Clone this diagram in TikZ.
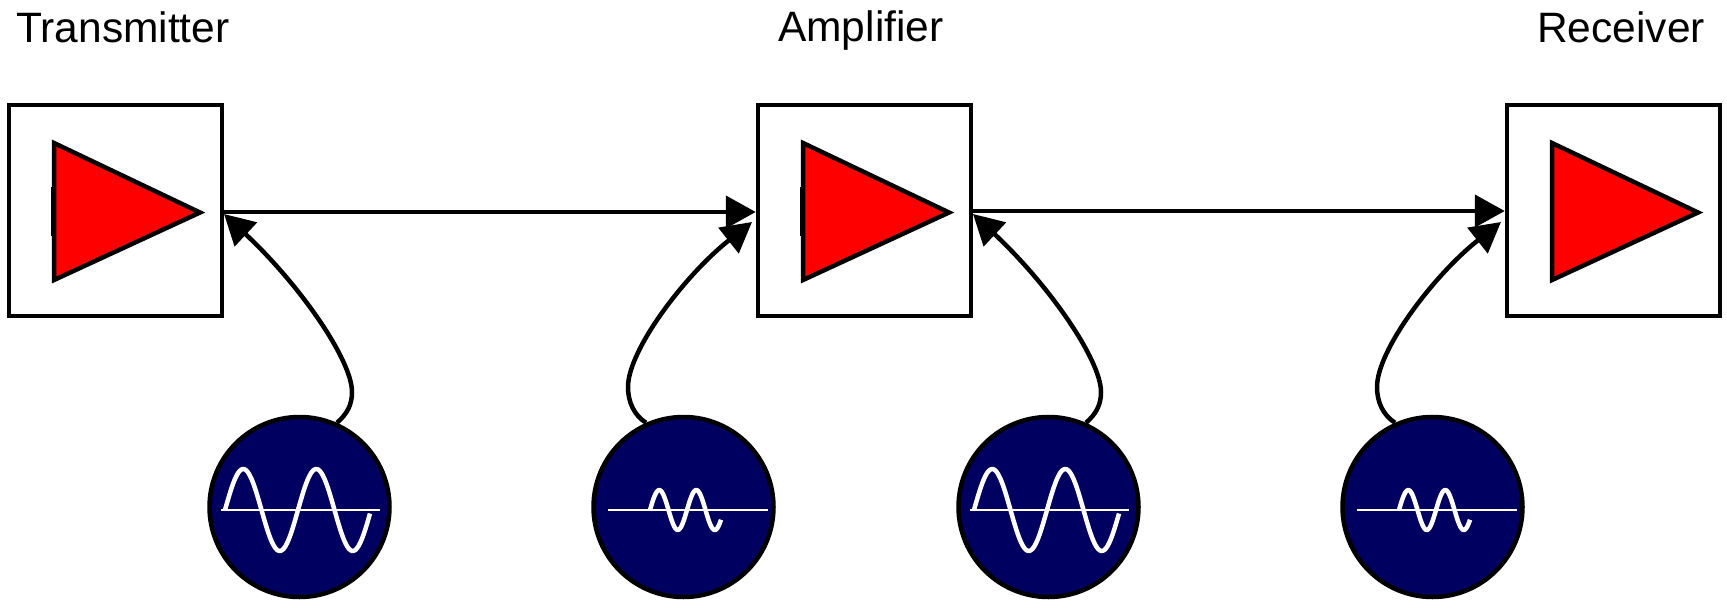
\documentclass[tikz,border=0pt]{standalone}
\usepackage{fontspec}
\setmainfont{Liberation Sans}
\usetikzlibrary{arrows.meta}
\definecolor{navy}{RGB}{0,0,96}
\tikzset{
  every picture/.style={x=1pt,y=-1pt},
  boxnode/.style={draw=black,fill=white,line width=4.5pt,minimum width=213pt,minimum height=211pt,inner sep=0pt},
  amp/.style={draw=black,fill=red,line width=4.5pt,miter limit=10},
  src/.style={circle,draw=black,fill=navy,line width=4.5pt,minimum size=180pt,inner sep=0pt},
  lbl/.style={font=\fontsize{42.5}{42.5}\selectfont,inner sep=0pt,anchor=base west},
  conn/.style={line width=4.5pt,-{Triangle[length=30pt,width=32pt]}},
  wave/.style={draw=white,line width=4.5pt,line join=round},
  axisline/.style={draw=white,line width=1.5pt},
}
\newcommand{\sigbig}[1]{%
  \draw[wave,shift={(#1,510)}] plot[domain=0:145,samples=90,smooth] (\x,{-41*sin(\x/73*360)});
  \draw[axisline,shift={(#1,510)}] (-4,0) -- (155,0);}
\newcommand{\sigsmall}[1]{%
  \draw[wave,shift={(#1,510)}] plot[domain=0:71,samples=60,smooth] (\x,{-20*sin(\x/37*360)});
  \draw[axisline,shift={(#1,510)}] (-42,0) -- (118,0);}
\newcommand{\ampl}[1]{\draw[amp,shift={(#1,0)}] (54,143) -- (200,212.5) -- (54,280) -- cycle;}
\begin{document}
\begin{tikzpicture}
\useasboundingbox (0,0) rectangle (1727,600);
\node[boxnode] (b1) at (115.5,210.5) {};
\node[boxnode] (b2) at (864.5,210.5) {};
\node[boxnode] (b3) at (1613.5,210.5) {};
\ampl{0}\ampl{749}\ampl{1498}
\draw[line width=2pt] (52,187) -- (52,236);
\draw[line width=2pt] (801,187) -- (801,236);
\node[lbl] (t1) at (16,42) {Transmitter};
\node[lbl] (t2) at (778,41) {Amplifier};
\node[lbl] (t3) at (1537,42) {Receiver};
\node[src] (s1) at (299.5,507) {};
\node[src] (s2) at (683.5,507) {};
\node[src] (s3) at (1048.5,507) {};
\node[src] (s4) at (1432.5,507) {};
\sigbig{225}\sigsmall{650}\sigbig{974}\sigsmall{1399}
\coordinate (h1) at (0,212);
\coordinate (h2) at (0,211);
\draw[conn] (b1.east |- h1) -- (b2.west |- h1);
\draw[conn] (b2.east |- h2) -- (b3.west |- h2);
\coordinate (e1) at (224,214);
\coordinate (e2) at (752,222);
\coordinate (e3) at (973,214);
\coordinate (e4) at (1501,222);
\draw[conn] (s1.66) .. controls (347,414) and (352,405) .. (352,392) .. controls (352,360) and (300,285) .. (e1);
\draw[conn] (s2.114) .. controls (634,415) and (628,402) .. (628,387) .. controls (628,350) and (685,275) .. (e2);
\draw[conn] (s3.66) .. controls (1096,414) and (1101,405) .. (1101,392) .. controls (1101,360) and (1049,285) .. (e3);
\draw[conn] (s4.114) .. controls (1383,415) and (1377,402) .. (1377,387) .. controls (1377,350) and (1434,275) .. (e4);
\end{tikzpicture}
\end{document}
